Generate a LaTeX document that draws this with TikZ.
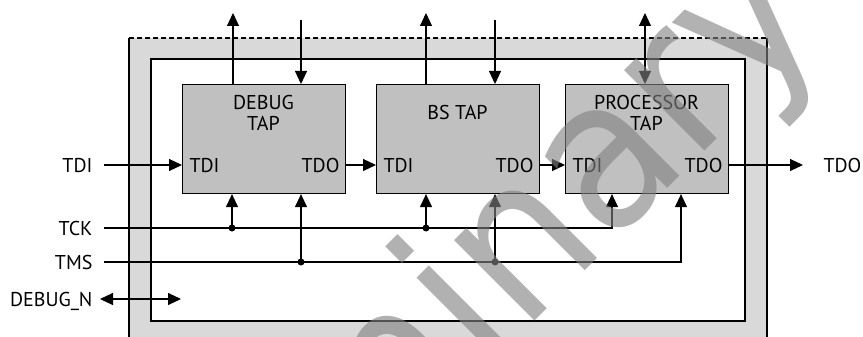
\documentclass[tikz,border=0pt]{standalone}
\usepackage{fontspec}
\setmainfont{PT Sans}
\newfontfamily\marcafont{DejaVu Sans}
\usetikzlibrary{arrows.meta}

\definecolor{banda}{HTML}{D9D9D9}
\definecolor{caja}{HTML}{C0C0C0}
\tikzset{
  tapbox/.style={draw, fill=caja, minimum width=163pt, minimum height=109pt, anchor=north west, inner sep=0pt},
  senal/.style={anchor=east, inner sep=0pt, text depth=0pt},
  puerto/.style={inner sep=0pt, text depth=0pt},
}

\begin{document}
\begin{tikzpicture}[x=1pt, y=-1pt, line width=1.1pt,
  >={Triangle[length=13pt,width=12pt]},
  font=\fontsize{20}{21}\selectfont]

\useasboundingbox (0,0) rectangle (863,337);

% Marco gris exterior
\fill[banda] (129,38) rectangle (767,350);
\draw (129,350) -- (129,38);
\draw[dash pattern=on 5pt off 3pt] (129,38) -- (767,38);
\draw (767,38) -- (767,350);
\draw[fill=white] (151,59) rectangle (745,321);

% Bloques TAP
\foreach \name/\x/\etiqueta in {debug/182/{DEBUG\\TAP}, bs/376/{BS TAP}, proc/565/{PROCESSOR\\TAP}} {
    \node[tapbox] (\name) at (\x,84) {};
    \node[align=center] (\name-lbl) at (\x+81.5,113) {\etiqueta};
    \node[puerto, anchor=west] (\name-tdi) at (\x+7,165) {TDI};
    \node[puerto, anchor=east] (\name-tdo) at (\x+158,165) {TDO};
}

% Cadena TDI -> TDO
\node[senal] (tdi) at (93,165) {TDI};
\node[puerto, anchor=west] (tdo) at (823,165) {TDO};
\draw[->, shorten <=11pt] (tdi.east) -- (debug.west |- tdi.east);
\draw[->] (debug.east |- debug-tdo) -- (bs.west |- bs-tdi);
\draw[->] (bs.east |- bs-tdo) -- (proc.west |- proc-tdi);
\draw[->, shorten >=20pt] (proc.east |- proc-tdo) -- (tdo.west);

% Flechas superiores
\foreach \name/\a/\b in {debug/51/119, bs/50/119} {
    \draw[->] ([xshift=\a pt]\name.north west) -- ++(0,-71) coordinate (\name-sal);
    \draw[<-] ([xshift=\b pt]\name.north west) -- ++(0,-64) coordinate (\name-ent);
}
\draw[<->] ([xshift=80pt]proc.north west) -- ++(0,-71) coordinate (proc-bus);

% TCK y TMS
\node[senal] (tck) at (93,228) {TCK};
\node[senal] (tms) at (93,262) {TMS};
\foreach \name/\a/\b in {debug/50/119, bs/50/119, proc/47/116} {
    \coordinate (\name-ck) at ([xshift=\a pt]\name.south west);
    \coordinate (\name-ms) at ([xshift=\b pt]\name.south west);
}
\draw[->, shorten <=11pt] (tck.east) -| (proc-ck);
\draw[->, shorten <=11pt] (tms.east) -| (proc-ms);
\foreach \name in {debug, bs} {
    \draw[->] (\name-ck |- tck.east) -- (\name-ck);
    \draw[->] (\name-ms |- tms.east) -- (\name-ms);
    \fill (\name-ck |- tck.east) circle (3.5pt);
    \fill (\name-ms |- tms.east) circle (3.5pt);
}

% DEBUG_N
\node[senal] (dbgn) at (93,299) {DEBUG\_N};
\coordinate (dbgn-in) at (181,299);
\draw[<->, shorten <=7pt] (dbgn.east) -- (dbgn-in);

% Marca de agua
\node[rotate=45, xscale=0.93, anchor=base west, inner sep=0pt, text=black!49, opacity=0.62,
  font=\fontsize{208}{208}\selectfont\marcafont] (marca) at (57,799) {Preliminary};
\end{tikzpicture}
\end{document}
